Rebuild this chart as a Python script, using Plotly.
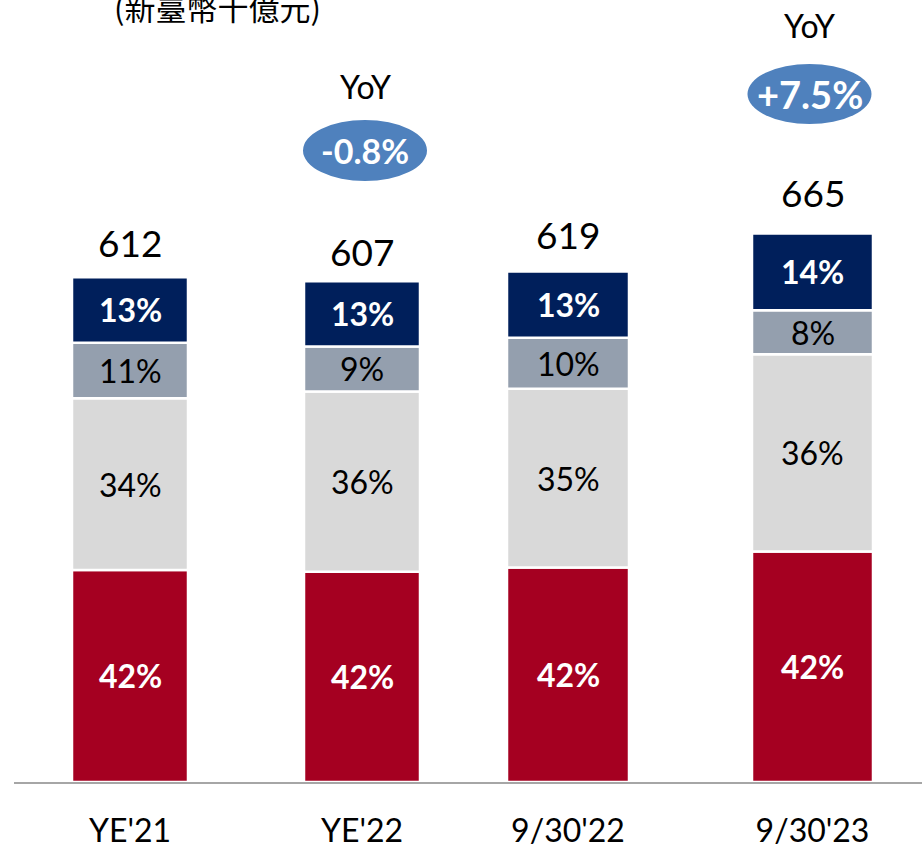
import plotly.graph_objects as go

# ---------------- data ----------------
categories = ["YE'21", "YE'22", "9/30'22", "9/30'23"]
totals = [612, 607, 619, 665]
pct_red = [42, 42, 42, 42]
pct_light = [34, 36, 35, 36]
pct_gray = [11, 9, 10, 8]
pct_navy = [13, 13, 13, 14]
yoy_labels = ["-0.8%", "+7.5%"]
yoy_bar_index = [1, 3]
unit_title = "(新臺幣十億元)"

# ---------------- layout constants ----------------
W, H = 922, 847
AXIS_PX = 782                # page row of the baseline
PX_PER_UNIT = 782 / 948
M_L = 14
M_B = H - AXIS_PX
x_pos = [116, 348, 554, 798.5]     # slot centres on the x axis
bar_w = [116, 116, 122, 121]
total_yshift = [35, 30, 37, 41]

RED = "#A50021"
LIGHT = "#D9D9D9"
GRAY = "#949FAE"
NAVY = "#001F5B"
BADGE = "#4F81BD"
FONT = "Lato, Carlito, Calibri, sans-serif"


def py(px):
    """page pixel row -> y data value"""
    return (AXIS_PX - px) / PX_PER_UNIT


Y_MAX = py(0)

series = [
    ("red", pct_red, RED, "white", "bold"),
    ("light", pct_light, LIGHT, "black", "normal"),
    ("gray", pct_gray, GRAY, "black", "normal"),
    ("navy", pct_navy, NAVY, "white", "bold"),
]

fig = go.Figure()
annotations = []
base = [0.0] * len(categories)
for name, pcts, color, tcolor, weight in series:
    vals = [t * p / 100 for t, p in zip(totals, pcts)]
    fig.add_trace(go.Bar(
        x=x_pos, y=vals, base=base, width=bar_w, name=name,
        marker=dict(color=color, line=dict(color="white", width=2.5)),
        hoverinfo="skip", showlegend=False,
    ))
    for i, (v, p) in enumerate(zip(vals, pcts)):
        annotations.append(dict(
            x=x_pos[i], y=base[i] + v / 2, xref="x", yref="y",
            text=f"{p}%", showarrow=False, yanchor="middle",
            font=dict(family=FONT, size=32, color=tcolor, weight=weight),
        ))
    base = [b + v for b, v in zip(base, vals)]

# totals on top of bars
for i, t in enumerate(totals):
    annotations.append(dict(
        x=x_pos[i], y=t, xref="x", yref="y", text=str(t), showarrow=False,
        yanchor="middle", yshift=total_yshift[i],
        font=dict(family=FONT, size=37, color="black"),
    ))

# YoY badges
badge_geo = [  # (x offset, ellipse top px, ellipse bottom px, yoy text px, font size)
    (3, 120, 181, 86, 34),
    (-3, 64, 124, 25, 38),
]
shapes = []
for (dx, top, bot, ty, fs), idx, lab in zip(badge_geo, yoy_bar_index, yoy_labels):
    xc = x_pos[idx] + dx
    shapes.append(dict(type="circle", xref="x", yref="y",
                       x0=xc - 62, x1=xc + 62, y0=py(bot), y1=py(top),
                       fillcolor=BADGE, line=dict(width=0), layer="above"))
    annotations.append(dict(
        x=xc, y=py((top + bot) / 2), xref="x", yref="y", text=lab,
        showarrow=False, yanchor="middle",
        font=dict(family=FONT, size=fs, color="white", weight="bold"),
    ))
    annotations.append(dict(
        x=xc, y=py(ty), xref="x", yref="y", text="YoY", showarrow=False,
        yanchor="middle",
        font=dict(family=FONT, size=32, color="black"),
    ))

# unit title (partly cut off at the top edge, as in the source slide)
annotations.append(dict(
    x=217 - M_L, y=1, xref="x", yref="paper", text=unit_title, showarrow=False,
    yanchor="middle", yshift=-6,
    font=dict(family="Noto Sans CJK TC", size=31, color="black"),
))

fig.update_layout(
    width=W, height=H,
    margin=dict(l=M_L, r=0, t=0, b=M_B, pad=0, autoexpand=False),
    paper_bgcolor="white", plot_bgcolor="white",
    barmode="overlay",
    annotations=annotations, shapes=shapes,
    xaxis=dict(range=[0, W - M_L], tickvals=x_pos, ticktext=categories,
               showgrid=False, zeroline=False, showline=True,
               linecolor="#A6A6A6", linewidth=2, ticks="",
               ticklabelstandoff=20, automargin=False,
               tickfont=dict(family=FONT, size=32, color="black"),
               fixedrange=True),
    yaxis=dict(range=[0, Y_MAX], visible=False, showgrid=False,
               zeroline=False, fixedrange=True, automargin=False),
)

fig.write_html(
    "out.html",
    config={"displayModeBar": False, "staticPlot": True},
    post_script="document.body.style.margin='0';document.body.style.overflow='hidden';",
)
